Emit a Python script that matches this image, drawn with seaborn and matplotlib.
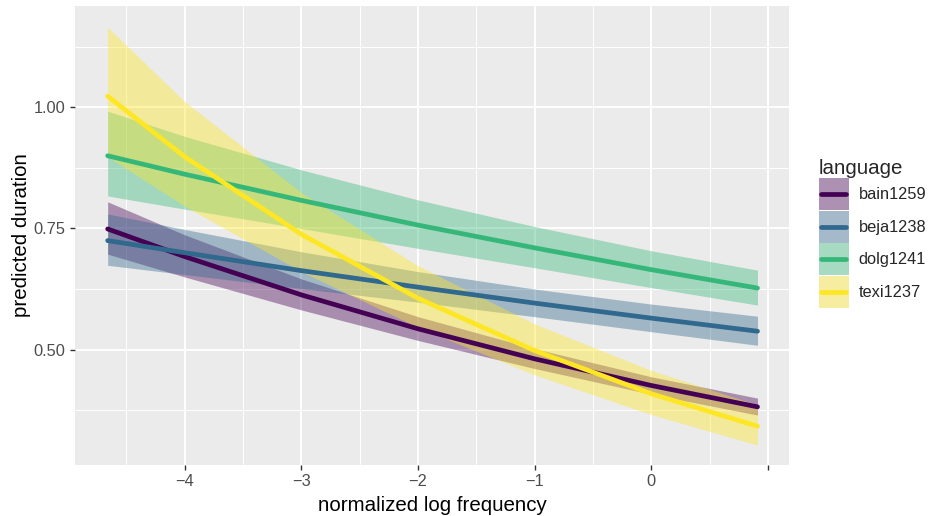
import pandas as pd
import seaborn as sns
import matplotlib.pyplot as plt
import numpy as np
from matplotlib.patches import Rectangle
from matplotlib.lines import Line2D
from matplotlib.legend_handler import HandlerBase

# Values
freq = [-4.66, -4, -3, -2, -1, 0, 0.91]
languages = ['bain1259', 'beja1238', 'dolg1241', 'texi1237']

bain_fit = [0.749, 0.692, 0.613, 0.543, 0.481, 0.426, 0.382]
bain_lo = [0.697, 0.650, 0.582, 0.519, 0.461, 0.408, 0.365]
bain_hi = [0.805, 0.737, 0.646, 0.568, 0.502, 0.444, 0.400]

beja_fit = [0.725, 0.700, 0.663, 0.629, 0.596, 0.565, 0.538]
beja_lo = [0.674, 0.655, 0.626, 0.598, 0.568, 0.537, 0.509]
beja_hi = [0.780, 0.748, 0.702, 0.661, 0.625, 0.594, 0.569]

dolg_fit = [0.900, 0.862, 0.808, 0.757, 0.710, 0.665, 0.627]
dolg_lo = [0.817, 0.790, 0.750, 0.709, 0.669, 0.628, 0.592]
dolg_hi = [0.992, 0.940, 0.871, 0.809, 0.754, 0.704, 0.664]

texi_fit = [1.023, 0.898, 0.738, 0.606, 0.498, 0.409, 0.342]
texi_lo = [0.898, 0.796, 0.661, 0.546, 0.448, 0.366, 0.303]
texi_hi = [1.165, 1.012, 0.824, 0.673, 0.553, 0.457, 0.386]

# long table for seaborn
df = pd.concat([
    pd.DataFrame({'freq': freq, 'fit': f, 'lo': lo, 'hi': hi, 'language': lang})
    for lang, f, lo, hi in zip(
        languages,
        [bain_fit, beja_fit, dolg_fit, texi_fit],
        [bain_lo, beja_lo, dolg_lo, texi_lo],
        [bain_hi, beja_hi, dolg_hi, texi_hi])
])

colors = ['#440154', '#31688E', '#35B779', '#FDE725']
palette = dict(zip(languages, colors))


# ggplot-like legend key: grey box, translucent fill, line across the middle
class KeyHandler(HandlerBase):
    def create_artists(self, legend, orig_handle, xdescent, ydescent,
                       width, height, fontsize, trans):
        c = orig_handle.get_color()
        x0, y0 = -xdescent, -ydescent
        bg = Rectangle((x0, y0), width, height, facecolor='#F2F2F2',
                       edgecolor='none', transform=trans)
        fill = Rectangle((x0, y0), width, height, facecolor=c, alpha=0.4,
                         edgecolor='none', transform=trans)
        yc = y0 + height / 2
        line = Line2D([x0 + width * 0.08, x0 + width * 0.92], [yc, yc],
                      color=c, linewidth=3.4, transform=trans)
        return [bg, fill, line]


sns.set_theme(style='darkgrid')
plt.rcParams['font.family'] = ['Liberation Sans', 'DejaVu Sans']

fig, ax = plt.subplots(figsize=(9.33, 5.16), dpi=100)
fig.subplots_adjust(left=75/933, right=789/933, top=1-6/516, bottom=1-465/516)
ax.set_facecolor('#EBEBEB')

# ribbons
for lang in languages:
    d = df[df['language'] == lang]
    ax.fill_between(d['freq'], d['lo'], d['hi'], color=palette[lang], alpha=0.4,
                    linewidth=0, zorder=2)

sns.lineplot(data=df, x='freq', y='fit', hue='language', palette=palette,
             linewidth=3.4, ax=ax, legend=False, zorder=3)

ax.set_xlim(-4.94, 1.18)
ax.set_ylim(0.262, 1.209)
ax.set_xticks([-4, -3, -2, -1, 0, 1])
ax.set_xticklabels(['\u22124', '\u22123', '\u22122', '\u22121', '0', ''])
ax.set_yticks([0.5, 0.75, 1.0])
ax.set_yticklabels(['0.50', '0.75', '1.00'])
ax.set_xticks([-4.5, -3.5, -2.5, -1.5, -0.5, 0.5], minor=True)
ax.set_yticks([0.375, 0.625, 0.875, 1.125], minor=True)
ax.grid(which='major', color='white', linewidth=1.4)
ax.grid(which='minor', color='white', linewidth=0.7)
for s in ax.spines.values():
    s.set_visible(False)
ax.tick_params(which='major', length=3.7, width=1, color='#333333',
               labelsize=11.8, labelcolor='#4D4D4D', pad=3)
ax.tick_params(which='minor', length=0)
ax.tick_params(axis='x', bottom=True)
ax.tick_params(axis='y', left=True)

ax.set_xlabel('normalized log frequency', fontsize=14.8, color='black', labelpad=5)
ax.set_ylabel('predicted duration', fontsize=14.8, color='black', labelpad=2)

handles = [Line2D([], [], color=palette[l]) for l in languages]
leg = fig.legend(handles, languages, title='language', loc='upper left',
                 bbox_to_anchor=(812/933, 1-152/516), frameon=False,
                 fontsize=11.8, title_fontsize=14.8, handlelength=1.85,
                 handleheight=2.6, handletextpad=0.6, labelspacing=0.05,
                 borderaxespad=0, handler_map={Line2D: KeyHandler()})
leg._legend_box.align = 'left'

fig.savefig('out.png', dpi=100)
